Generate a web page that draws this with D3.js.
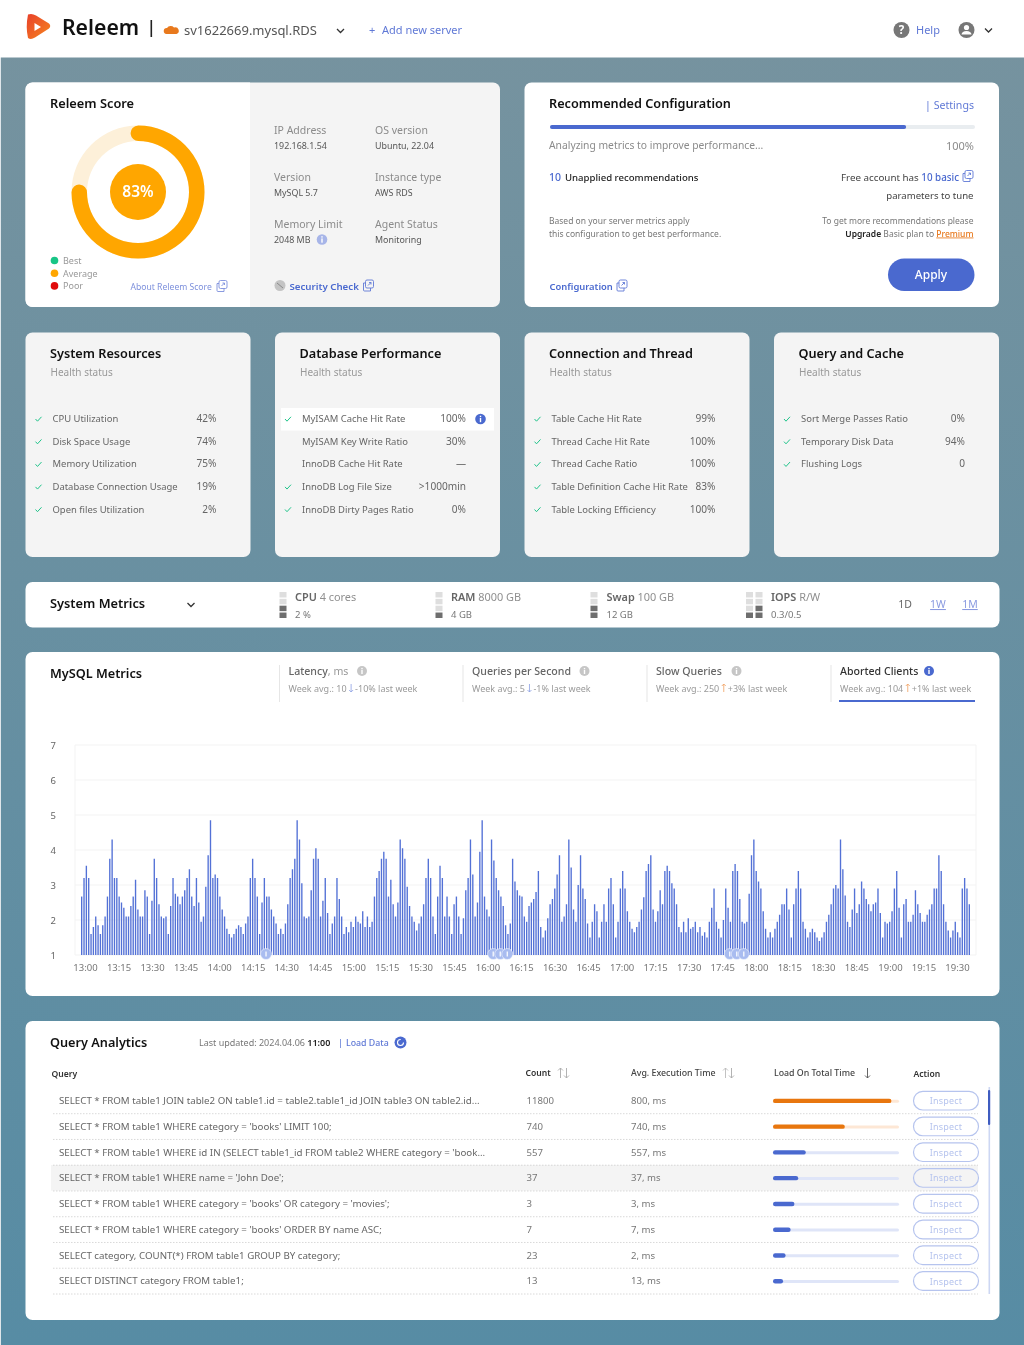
<!DOCTYPE html>
<html>
<head>
<meta charset="utf-8">
<script src="https://cdn.jsdelivr.net/npm/d3@7"></script>
<style>
html, body { margin: 0; padding: 0; background: #fff; }
svg { display: block; filter: blur(0.3px); }
text { font-family: "Noto Sans", sans-serif; }
</style>
</head>
<body>
<div id="viz_area"></div>
<script>
// chart data
var timeLabels = ["13:00","13:15","13:30","13:45","14:00","14:15","14:30","14:45","15:00","15:15","15:30","15:45","16:00","16:15","16:30","16:45","17:00","17:15","17:30","17:45","18:00","18:15","18:30","18:45","19:00","19:15","19:30"]
var yTicks = [1,2,3,4,5,6,7]
var barValues = [
  2.67,3.2,3.55,3.2,1.6,1.8,2.1,1.85,1.6,1.85,2.1,2.67,3.75,4.3,3.2,3.2,2.67,2.5,2.35,2.1,2.1,2.4,2.67,3.15,2.3,2.1,2.1,2.85,2.67,1.6,2.55,3.75,3.2,2.45,2.1,2.05,2.1,1.6,2.4,3.2,2.75,2.67,2.45,2.67,2.85,3.2,3.45,2.67,2.4,3.2,2.5,1.95,2.1,2.95,3.85,4.85,3.2,3.3,3.2,2.67,2.3,2.1,1.75,1.6,1.5,1.6,1.75,1.85,1.8,1.6,1.9,2.1,3.2,3.75,3.2,2.67,1.6,2.5,3.2,2.67,
  2.67,2.3,2.1,1.9,1.6,1.75,1.6,1.9,2.45,3.2,3.45,3.75,4.85,4.3,3.05,2.1,2.05,2.1,2.85,3.75,4.05,3.75,2.1,2.55,3.2,2.2,1.6,1.9,2.1,3.2,2.6,2.1,1.6,1.8,1.65,1.95,1.8,2.1,1.95,1.9,2.25,1.8,2.1,1.8,1.95,2.67,3.2,3.4,3.75,3.95,3.75,2.67,3.15,2.45,2.1,2.5,4.3,4.05,3.75,2.95,2.4,2.1,1.95,1.7,1.9,2.1,2.45,3.2,3.75,3.2,2.1,1.6,2.67,3.55,3.2,2.1,2.67,2.1,1.6,2.45,2.67,2.1,1.6,2.05,2.85,3.2,4.3,3.3,2.1,2.5,3.95,4.85,2.67,2.3,2.1,4.3,3.7,3.2,2.85,2.67,2.4,1.85,1.6,
  1.9,3.75,3.1,2.85,2.7,2.67,2.1,1.95,2.4,2.5,2.6,2.8,3.4,1.8,1.5,1.7,2.05,2.45,2.6,2.9,3.3,3.85,1.95,2.1,2.45,4.3,3.5,2.3,1.95,3.0,3.85,2.9,2.6,1.9,1.5,1.95,2.45,2.25,1.5,1.95,2.45,1.95,2.9,3.2,2.45,1.5,1.95,2.9,3.4,2.9,2.25,1.95,1.75,1.65,1.8,1.95,2.3,2.65,3.4,3.6,3.85,2.3,1.95,2.25,2.85,2.45,3.4,3.55,3.4,3.05,2.9,2.45,1.8,1.65,1.95,1.65,2.05,1.75,1.8,1.95,1.65,1.8,1.55,1.65,1.5,1.95,2.35,2.9,1.95,1.75,1.5,2.0,2.9,2.35,1.95,3.4,3.6,3.4,2.6,1.95,1.9,1.95,2.75,
  3.85,4.3,3.4,3.1,2.9,2.25,1.75,1.5,1.65,1.5,1.75,1.95,2.15,2.45,2.45,2.9,2.3,1.5,2.45,2.9,3.4,2.9,1.95,1.75,1.5,1.65,1.75,1.65,1.5,1.4,1.5,1.65,1.95,2.15,2.45,2.9,3.0,2.9,4.3,3.45,2.7,1.95,1.8,2.3,2.9,2.2,2.45,3.1,2.9,2.6,2.45,2.25,2.45,2.5,2.9,2.2,1.5,1.95,1.9,1.95,2.25,2.9,3.4,2.35,1.5,2.45,2.6,1.95,1.95,2.15,2.85,2.45,2.2,1.95,1.95,2.15,2.3,2.45,2.9,2.9,3.85,3.4,2.45,1.95,1.7,1.5,1.7,1.95,1.65,1.5,2.9,3.2,2.9,2.45
]
var annotationIndex = [79,176,179,182,277,280,283]

var scoreValue = 83
var scoreArcShare = 0.79
var scoreLegend = ["Best","Average","Poor"]
var scoreLegendColors = ["#18c586","#ffa600","#e00b0b"]

var infoLabels = ["IP Address","OS version","Version","Instance type","Memory Limit","Agent Status"]
var infoValues = ["192.168.1.54","Ubuntu, 22.04","MySQL 5.7","AWS RDS","2048 MB","Monitoring"]

var cardTitles = ["System Resources","Database Performance","Connection and Thread","Query and Cache"]
var cardLabels = [
  ["CPU Utilization","Disk Space Usage","Memory Utilization","Database Connection Usage","Open files Utilization"],
  ["MyISAM Cache Hit Rate","MyISAM Key Write Ratio","InnoDB Cache Hit Rate","InnoDB Log File Size","InnoDB Dirty Pages Ratio"],
  ["Table Cache Hit Rate","Thread Cache Hit Rate","Thread Cache Ratio","Table Definition Cache Hit Rate","Table Locking Efficiency"],
  ["Sort Merge Passes Ratio","Temporary Disk Data","Flushing Logs"]
]
var cardValues = [
  ["42%","74%","75%","19%","2%"],
  ["100%","30%","—",">1000min","0%"],
  ["99%","100%","100%","83%","100%"],
  ["0%","94%","0"]
]
var cardChecks = [
  [1,1,1,1,1],
  [1,0,0,1,1],
  [1,1,1,1,1],
  [1,1,1]
]

var metricNames = ["CPU","RAM","Swap","IOPS"]
var metricNotes = ["4 cores","8000 GB","100 GB","R/W"]
var metricValues = ["2 %","4 GB","12 GB","0.3/0.5"]
var metricLevels = [[2],[1],[2],[1,2]]

var tabTitles = ["Latency","Queries per Second","Slow Queries","Aborted Clients"]
var tabAvgs = ["Week avg.: 10","Week avg.: 5","Week avg.: 250","Week avg.: 104"]
var tabDeltas = ["-10% last week","-1% last week","+3% last week","+1% last week"]

var queries = [
  "SELECT * FROM table1 JOIN table2 ON table1.id = table2.table1_id JOIN table3 ON table2.id...",
  "SELECT * FROM table1 WHERE category = 'books' LIMIT 100;",
  "SELECT * FROM table1 WHERE id IN (SELECT table1_id FROM table2 WHERE category = 'book...",
  "SELECT * FROM table1 WHERE name = 'John Doe';",
  "SELECT * FROM table1 WHERE category = 'books' OR category = 'movies';",
  "SELECT * FROM table1 WHERE category = 'books' ORDER BY name ASC;",
  "SELECT category, COUNT(*) FROM table1 GROUP BY category;",
  "SELECT DISTINCT category FROM table1;"
]
var queryCounts = ["11800","740","557","37","3","7","23","13"]
var queryTimes = ["800, ms","740, ms","557, ms","37, ms","3, ms","7, ms","2, ms","13, ms"]
var queryLoads = [94,57,26,20,17,14,10,8]

var width = 1024
var height = 1345
var BLUE = "#4a69cf"
var LINK = "#6079d6"
var GREY = "#8b8b8b"
var DARK = "#565656"

var svg = d3.select("#viz_area")
  .append("svg")
  .attr("width", width)
  .attr("height", height)
  .attr("viewBox", [0, 0, width, height])

var defs = svg.append("defs")
var bg = defs.append("linearGradient").attr("id", "bg").attr("x1", 0).attr("x2", 0).attr("y1", 0).attr("y2", 1)
bg.append("stop").attr("offset", "0%").attr("stop-color", "#77939f")
bg.append("stop").attr("offset", "100%").attr("stop-color", "#578ca4")
var logoGrad = defs.append("linearGradient").attr("id", "logo").attr("x1", 0).attr("x2", 1).attr("y1", 0).attr("y2", 1)
logoGrad.append("stop").attr("offset", "0%").attr("stop-color", "#e8402a")
logoGrad.append("stop").attr("offset", "100%").attr("stop-color", "#f6861f")

function txt(g, x, y, s, o) {
  o = o || {}
  return g.append("text")
    .attr("x", x)
    .attr("y", y)
    .attr("font-size", o.size || 10)
    .attr("font-weight", o.weight || 400)
    .attr("fill", o.color || DARK)
    .attr("text-anchor", o.anchor || "start")
    .attr("letter-spacing", o.ls || null)
    .text(s)
}

function panel(x, y, w, h, fill) {
  svg.append("rect").attr("x", x).attr("y", y).attr("width", w).attr("height", h).attr("rx", 7).attr("fill", fill || "#fff")
}

function chevron(x, y) {
  svg.append("path").attr("d", `M${x - 3.5},${y - 1.5}L${x},${y + 2}L${x + 3.5},${y - 1.5}`)
    .attr("fill", "none").attr("stroke", "#333").attr("stroke-width", 1.3)
}

function infoDot(x, y, r, color) {
  svg.append("circle").attr("cx", x).attr("cy", y).attr("r", r).attr("fill", color)
  svg.append("rect").attr("x", x - 0.7).attr("y", y - r * 0.2).attr("width", 1.4).attr("height", r * 0.8).attr("fill", "#fff")
  svg.append("rect").attr("x", x - 0.7).attr("y", y - r * 0.62).attr("width", 1.4).attr("height", 1.4).attr("fill", "#fff")
}

function extIcon(x, y, color) {
  var g = svg.append("g").attr("fill", "none").attr("stroke", color).attr("stroke-width", 0.9)
  g.append("rect").attr("x", x + 2).attr("y", y - 5.5).attr("width", 8).attr("height", 8).attr("rx", 1.5)
  g.append("path").attr("d", `M${x + 2},${y - 2.5}H${x}V${y + 4.5}a1,1 0 0 0 1,1H${x + 7}V${y + 2.5}`)
  g.append("path").attr("d", `M${x + 4.5},${y}L${x + 7.5},${y - 3}M${x + 5.5},${y - 3}H${x + 7.5}V${y - 1}`)
}

function check(x, y) {
  svg.append("path").attr("d", `M${x - 3},${y}L${x - 1},${y + 2.2}L${x + 3},${y - 2.2}`)
    .attr("fill", "none").attr("stroke", "#1fc48a").attr("stroke-width", 1)
}

// background and header
svg.append("rect").attr("width", width).attr("height", height).attr("fill", "url(#bg)")
svg.append("rect").attr("width", 1).attr("height", height).attr("fill", "#dfe6ea")
svg.append("rect").attr("width", width).attr("height", 57.5).attr("fill", "#fff")

svg.append("path")
  .attr("d", "M28,14.5Q32,13 36,15.5L49,23.5Q51.5,26 49,28.5L35,37.5Q31,40 28,38Q25.5,27 28,14.5Z")
  .attr("fill", "url(#logo)")
svg.append("path").attr("d", "M34.5,23L41,27L34.5,31Z").attr("fill", "#fff")
txt(svg, 62, 34.5, "Releem", {size: 21.2, weight: 600, color: "#111"})
svg.append("rect").attr("x", 150.5).attr("y", 20).attr("width", 1.6).attr("height", 17).attr("fill", "#222")
svg.append("path").attr("d", "M166.5,34a3,3 0 0 1 0.5,-6a4.5,4.5 0 0 1 7,-0.5a3.3,3.3 0 0 1 2.5,6.5Z").attr("fill", "#e8791d")
txt(svg, 184, 34.5, "sv1622669.mysql.RDS", {size: 13, color: "#555"})
chevron(340.5, 30.5)
txt(svg, 369, 34, "+", {size: 11, color: LINK})
txt(svg, 382, 34, "Add new server", {size: 11, color: LINK})
svg.append("circle").attr("cx", 901.5).attr("cy", 30).attr("r", 8).attr("fill", "#777")
txt(svg, 901.5, 34, "?", {size: 11.5, weight: 700, color: "#fff", anchor: "middle"})
txt(svg, 916, 34, "Help", {size: 11, color: LINK})
svg.append("circle").attr("cx", 966.5).attr("cy", 30).attr("r", 8).attr("fill", "#777")
svg.append("circle").attr("cx", 966.5).attr("cy", 27.5).attr("r", 2.6).attr("fill", "#fff")
svg.append("path").attr("d", "M961.5,34.5a5,3.6 0 0 1 10,0Z").attr("fill", "#fff")
chevron(988.5, 30)

// Releem score panel
panel(25.5, 82.5, 474.5, 224.5, "#f4f4f4")
svg.append("path").attr("d", "M250,82.5H32.5a7,7 0 0 0 -7,7V300a7,7 0 0 0 7,7H250Z").attr("fill", "#fff")
txt(svg, 50, 108, "Releem Score", {size: 12.8, weight: 600, color: "#111"})

var tau = 2 * Math.PI
var scoreStart = -0.02 * tau
var score = svg.append("g").attr("transform", "translate(138,192)")
var scoreArc = d3.arc().innerRadius(51).outerRadius(66.5).cornerRadius(7.7)
score.append("path")
  .attr("d", d3.arc().innerRadius(51).outerRadius(66.5)({startAngle: 0, endAngle: tau}))
  .attr("fill", "#fdf0d9")
score.append("path")
  .attr("d", scoreArc({startAngle: scoreStart, endAngle: scoreStart + scoreArcShare * tau}))
  .attr("fill", "#ffa600")
score.append("circle").attr("r", 28).attr("fill", "#ffa600")
txt(score, 0, 4.5, scoreValue + "%", {size: 15.5, weight: 600, color: "#fff", anchor: "middle"})

scoreLegend.forEach(function (d, i) {
  var y = 260.5 + i * 12.7
  svg.append("circle").attr("cx", 54.5).attr("cy", y).attr("r", 3.8).attr("fill", scoreLegendColors[i])
  txt(svg, 63, y + 3.5, d, {size: 9, color: "#999"})
})
txt(svg, 130.5, 289.5, "About Releem Score", {size: 8.6, color: "#7d90dc"})
extIcon(217, 286, "#7d90dc")

infoLabels.forEach(function (d, i) {
  var x = i % 2 ? 375 : 274
  var y = [134, 180.5, 228][Math.floor(i / 2)]
  txt(svg, x, y, d, {size: 10.5, color: GREY})
  txt(svg, x, y + 15, infoValues[i], {size: 8.9, color: DARK})
})
infoDot(322, 239.5, 5.3, "#a7b5e8")
svg.append("circle").attr("cx", 280).attr("cy", 285.5).attr("r", 5.5).attr("fill", "#c4c4c4")
svg.append("path").attr("d", "M277,283L283,288").attr("stroke", "#8a8a8a").attr("stroke-width", 1)
txt(svg, 289.5, 289.5, "Security Check", {size: 9.7, weight: 600, color: BLUE})
extIcon(363.5, 285.5, LINK)

// recommended configuration panel
panel(524.5, 82.5, 474.5, 224.5)
txt(svg, 549, 108, "Recommended Configuration", {size: 12.7, weight: 600, color: "#111"})
txt(svg, 974, 109, "| Settings", {size: 10.6, color: LINK, anchor: "end"})
var progressX = d3.scaleLinear().domain([0, 100]).range([550, 975])
svg.append("rect").attr("x", progressX(0)).attr("y", 125).attr("width", progressX(100) - progressX(0)).attr("height", 4).attr("rx", 2).attr("fill", "#e9edf0")
svg.append("rect").attr("x", progressX(0)).attr("y", 125).attr("width", progressX(83.8) - progressX(0)).attr("height", 4).attr("rx", 2).attr("fill", BLUE)
txt(svg, 549, 149, "Analyzing metrics to improve performance...", {size: 10.3, color: GREY})
txt(svg, 974, 149.5, "100%", {size: 11, color: GREY, anchor: "end"})
txt(svg, 549, 181, "10", {size: 10.5, weight: 500, color: BLUE})
txt(svg, 565, 181, "Unapplied recommendations", {size: 9.6, weight: 500, color: "#222"})
var free = txt(svg, 959, 181, "Free account has ", {size: 9.8, color: "#444", anchor: "end"})
free.append("tspan").attr("fill", BLUE).attr("font-weight", 500).text("10 basic")
extIcon(963, 176, LINK)
txt(svg, 973.5, 198.5, "parameters to tune", {size: 9.6, color: "#444", anchor: "end"})
txt(svg, 549, 224, "Based on your server metrics apply", {size: 8.5, color: "#777"})
txt(svg, 549, 236.5, "this configuration to get best performance.", {size: 8.5, color: "#777"})
txt(svg, 973.5, 224, "To get more recommendations please", {size: 8.5, color: "#777", anchor: "end"})
var up = txt(svg, 973.5, 236.5, "Upgrade", {size: 8.5, weight: 600, color: "#222", anchor: "end"})
up.append("tspan").attr("fill", "#777").attr("font-weight", 400).text(" Basic plan to ")
up.append("tspan").attr("fill", "#e8791d").attr("font-weight", 500).attr("text-decoration", "underline").text("Premium")
txt(svg, 549.5, 289.5, "Configuration", {size: 9.4, weight: 600, color: BLUE})
extIcon(617, 285.5, LINK)
svg.append("rect").attr("x", 888).attr("y", 258.5).attr("width", 86.5).attr("height", 32.5).attr("rx", 16.2).attr("fill", BLUE)
txt(svg, 931, 279, "Apply", {size: 12, weight: 500, color: "#fff", anchor: "middle"})

// health cards
var cardX = [25.5, 275, 524.5, 774]
var rowY = d3.scalePoint().domain(d3.range(5)).range([419, 509.5])
cardTitles.forEach(function (title, c) {
  var x = cardX[c]
  panel(x, 332.5, 225, 224.5, "#f4f4f4")
  txt(svg, x + 24.5, 358, title, {size: 12.7, weight: 600, color: "#111"})
  txt(svg, x + 25, 375.5, "Health status", {size: 10, color: "#999"})
  if (c == 1) {
    svg.append("rect").attr("x", x + 6).attr("y", 408).attr("width", 213).attr("height", 22.5).attr("fill", "#fff")
    infoDot(480.5, 419, 5.3, BLUE)
  }
  cardLabels[c].forEach(function (label, i) {
    var y = rowY(i)
    if (cardChecks[c][i]) check(x + 13, y)
    txt(svg, x + 27, y + 3, label, {size: 9.45, color: "#666"})
    txt(svg, x + 191, y + 3, cardValues[c][i], {size: 10.1, color: "#666", anchor: "end"})
  })
})

// system metrics strip
panel(25.5, 582, 974, 45.5)
txt(svg, 50, 608, "System Metrics", {size: 12.8, weight: 600, color: "#111"})
chevron(191, 604.5)
var metricIconX = [279.5, 435.5, 590.5, 746]
var metricTextX = [295, 451, 606.5, 771]
var blockY = d3.scaleBand().domain([3, 2, 1, 0]).range([592, 618]).paddingInner(0.2)
metricNames.forEach(function (name, m) {
  metricLevels[m].forEach(function (level, col) {
    blockY.domain().forEach(function (b) {
      svg.append("rect")
        .attr("x", metricIconX[m] + col * 9.5).attr("y", blockY(b))
        .attr("width", 7).attr("height", blockY.bandwidth())
        .attr("fill", b < level ? "#6e6e6e" : "#dedede")
    })
  })
  var t = txt(svg, metricTextX[m], 601, name, {size: 10.9, weight: 600, color: "#666"})
  t.append("tspan").attr("fill", "#8f8f8f").attr("font-weight", 400).text(" " + metricNotes[m])
  txt(svg, metricTextX[m], 617.5, metricValues[m], {size: 9.5, color: "#777"})
})
txt(svg, 905, 608, "1D", {size: 10.5, color: "#666", anchor: "middle"})
txt(svg, 938, 608, "1W", {size: 10.5, color: "#8a9ae0", anchor: "middle"}).attr("text-decoration", "underline")
txt(svg, 970, 608, "1M", {size: 10.5, color: "#8a9ae0", anchor: "middle"}).attr("text-decoration", "underline")

// MySQL metrics panel
panel(25.5, 652, 974, 344)
txt(svg, 50, 678, "MySQL Metrics", {size: 12.7, weight: 600, color: "#111"})
var tabX = [279, 462.5, 646.5, 830.5]
var tabInfoX = [362, 584.5, 736.5, 929]
tabTitles.forEach(function (d, i) {
  var x = tabX[i]
  var active = i == 3
  svg.append("rect").attr("x", x).attr("y", 665).attr("width", 1).attr("height", 37).attr("fill", "#e6e6e6")
  var t = txt(svg, x + 9.5, 675, d, {size: 10.6, weight: 500, color: active ? "#333" : "#666"})
  if (i == 0) t.append("tspan").attr("fill", "#999").attr("font-weight", 400).text(", ms")
  infoDot(tabInfoX[i], 671, 5, active ? BLUE : "#c6c6c6")
  var a = txt(svg, x + 9.5, 691.5, tabAvgs[i], {size: 9, color: "#9a9a9a"})
  var aw = a.node().getComputedTextLength()
  var ax = x + 9.5 + aw + 4.5
  var isUp = i > 1
  svg.append("path")
    .attr("d", isUp ? `M${ax},${692}V${684}M${ax - 2},${686}L${ax},${684}L${ax + 2},${686}` : `M${ax},${684}V${692}M${ax - 2},${690}L${ax},${692}L${ax + 2},${690}`)
    .attr("fill", "none").attr("stroke", isUp ? "#f0a060" : "#8b9fe3").attr("stroke-width", 0.8)
  txt(svg, ax + 4, 691.5, tabDeltas[i], {size: 9, color: "#9a9a9a"})
})
svg.append("rect").attr("x", 839).attr("y", 700).attr("width", 136).attr("height", 2).attr("fill", BLUE)

// bar chart
var scY = d3.scaleLinear().domain([1, 7]).range([955, 745])
var scX = d3.scaleBand().domain(d3.range(barValues.length)).range([81, 970]).paddingInner(0.42)
var scTime = d3.scalePoint().domain(timeLabels).range([85, 957])

var grid = svg.append("g").attr("stroke", "#f3f3f3")
grid.selectAll("line").data(yTicks).enter().append("line")
  .attr("x1", 75).attr("x2", 976)
  .attr("y1", d => scY(d)).attr("y2", d => scY(d))
grid.append("line").attr("x1", 75).attr("x2", 75).attr("y1", scY(7)).attr("y2", scY(1))
grid.append("line").attr("x1", 976).attr("x2", 976).attr("y1", scY(7)).attr("y2", scY(1))

svg.append("g")
  .attr("transform", "translate(59,0)")
  .call(d3.axisLeft(scY).tickValues(yTicks).tickSize(0).tickFormat(d3.format("d")))
  .call(g => g.select(".domain").remove())
  .call(g => g.selectAll("text").attr("font-size", 9.5).attr("fill", "#666").attr("font-family", '"Noto Sans", sans-serif'))

svg.append("g")
  .attr("transform", "translate(0,961)")
  .call(d3.axisBottom(scTime).tickSize(0))
  .call(g => g.select(".domain").remove())
  .call(g => g.selectAll("text").attr("font-size", 9.5).attr("fill", "#777").attr("font-family", '"Noto Sans", sans-serif'))

svg.append("g")
  .selectAll("rect")
  .data(barValues)
  .enter()
  .append("rect")
  .attr("x", (d, i) => scX(i))
  .attr("y", d => scY(d))
  .attr("width", scX.bandwidth())
  .attr("height", d => scY(1) - scY(d))
  .attr("fill", "#5371d6")

var notes = svg.append("g").selectAll("g").data(annotationIndex).enter().append("g")
  .attr("transform", d => `translate(${scX(d)},${scY(1) - 1})`)
notes.append("circle").attr("r", 5.5).attr("fill", "#a9bcf0").attr("stroke", "#fff").attr("stroke-width", 0.5)
notes.append("rect").attr("x", -0.6).attr("y", -2.5).attr("width", 1.2).attr("height", 5).attr("fill", "#fff")

// query analytics
panel(25.5, 1021, 974, 299)
txt(svg, 50, 1046.5, "Query Analytics", {size: 12.7, weight: 600, color: "#111"})
var lu = txt(svg, 199, 1046, "Last updated: 2024.04.06 ", {size: 9, color: "#777"})
lu.append("tspan").attr("fill", "#222").attr("font-weight", 600).text("11:00")
txt(svg, 338, 1046, "|", {size: 9, color: BLUE})
txt(svg, 346, 1046, "Load Data", {size: 8.8, weight: 500, color: LINK})
svg.append("circle").attr("cx", 400.5).attr("cy", 1042.5).attr("r", 6).attr("fill", BLUE)
svg.append("circle").attr("cx", 400.5).attr("cy", 1042.5).attr("r", 3).attr("fill", "none").attr("stroke", "#fff").attr("stroke-width", 1.1).attr("stroke-dasharray", "14 5")

txt(svg, 51.5, 1077, "Query", {size: 8.6, weight: 600, color: "#333"})
txt(svg, 525.5, 1076, "Count", {size: 8.6, weight: 600, color: "#333"})
txt(svg, 631, 1076, "Avg. Execution Time", {size: 8.8, weight: 500, color: "#444"})
txt(svg, 774, 1076, "Load On Total Time", {size: 8.8, weight: 500, color: "#444"})
txt(svg, 913.5, 1077, "Action", {size: 8.6, weight: 600, color: "#333"})
function sortArrow(x, dir, color) {
  var d = dir > 0 ? `M${x},1078V1068M${x - 2.5},1070.5L${x},1068L${x + 2.5},1070.5` : `M${x},1068V1078M${x - 2.5},1075.5L${x},1078L${x + 2.5},1075.5`
  svg.append("path").attr("d", d).attr("fill", "none").attr("stroke", color).attr("stroke-width", 0.9)
}
sortArrow(560.5, 1, "#aaa"); sortArrow(566.5, -1, "#aaa")
sortArrow(725.5, 1, "#bbb"); sortArrow(731.5, -1, "#aaa")
sortArrow(867.5, -1, "#555")

var queryRow = d3.scalePoint().domain(d3.range(queries.length)).range([1100.7, 1281])
var rowStep = queryRow.step()
var scLoad = d3.scaleLinear().domain([0, 100]).range([773, 899])
svg.append("rect").attr("x", 51).attr("y", queryRow(3) - 13).attr("width", 927).attr("height", rowStep).attr("fill", "#f4f4f4")
queries.forEach(function (q, i) {
  var y = queryRow(i)
  var hot = queryLoads[i] > 50
  txt(svg, 59, y + 3.3, q, {size: 9.72, color: "#666"})
  txt(svg, 526.5, y + 3.3, queryCounts[i], {size: 9.6, color: "#777"})
  txt(svg, 631, y + 3.3, queryTimes[i], {size: 9.6, color: "#777"})
  svg.append("rect").attr("x", scLoad(0)).attr("y", y - 1).attr("width", scLoad(100) - scLoad(0)).attr("height", 3).attr("rx", 1.5)
    .attr("fill", hot ? "#fde7d5" : "#dfe5f8")
  svg.append("rect").attr("x", scLoad(0)).attr("y", y - 2).attr("width", scLoad(queryLoads[i]) - scLoad(0)).attr("height", 4.4).attr("rx", 2.2)
    .attr("fill", hot ? "#e8760e" : BLUE)
  svg.append("rect").attr("x", 913.5).attr("y", y - 9.3).attr("width", 65).attr("height", 18.6).attr("rx", 9.3)
    .attr("fill", i == 3 ? "#f4f4f4" : "#fff").attr("stroke", "#b6c4ee").attr("stroke-width", 1.2)
  txt(svg, 946, y + 3.5, "Inspect", {size: 9, color: "#b6c4ee", anchor: "middle", ls: 0.2})
  svg.append("line").attr("x1", 53).attr("x2", 978).attr("y1", y + 13).attr("y2", y + 13)
    .attr("stroke", "#cfcfcf").attr("stroke-width", 0.8).attr("stroke-dasharray", "1.5 1.5")
})
svg.append("rect").attr("x", 988.5).attr("y", 1087).attr("width", 1.6).attr("height", 207).attr("fill", "#cdd7f3")
svg.append("rect").attr("x", 988).attr("y", 1090).attr("width", 2.2).attr("height", 35).attr("rx", 1).attr("fill", "#3f5cc0")
</script>
</body>
</html>
